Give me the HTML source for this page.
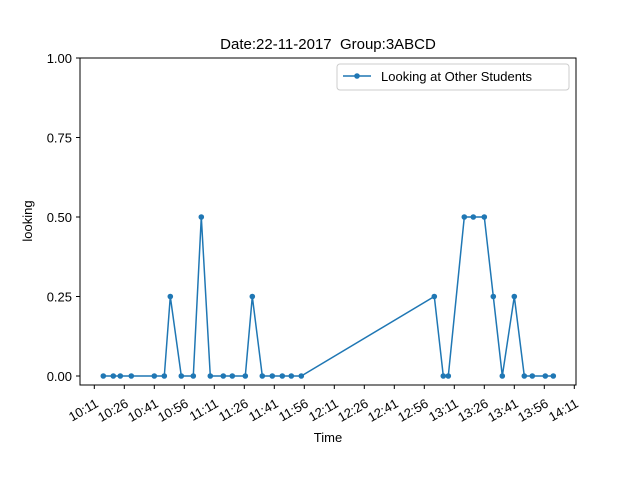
<!DOCTYPE html>
<html><head><meta charset="utf-8"><style>
body{margin:0;background:#fff;}
svg text{font-family:"Liberation Sans","DejaVu Sans",sans-serif;fill:#000;}
</style></head><body>
<svg id="chart" width="640" height="480" viewBox="0 0 640 480">
<rect width="640" height="480" fill="#fff"/>
<text x="328" y="49" font-size="15" text-anchor="middle" style="white-space:pre">Date:22-11-2017  Group:3ABCD</text>
<g id="grid"></g>
<g id="series"></g>
<rect x="80" y="58" width="496" height="327" fill="none" stroke="#000" stroke-width="1"/>
<text x="328" y="442" font-size="13" text-anchor="middle">Time</text>
<text transform="translate(32,221) rotate(-90)" font-size="13" text-anchor="middle">looking</text>
<g>
<rect x="337" y="64" width="232" height="26" rx="3" fill="#fff" stroke="#ccc"/>
<line x1="343" y1="76" x2="371" y2="76" stroke="#1f77b4" stroke-width="1.5"/>
<circle cx="357" cy="76" r="2.8" fill="#1f77b4"/>
<text x="381" y="81" font-size="13">Looking at Other Students</text>
</g>
</svg>
<script>
// minutes since midnight
const times=[615.5,620.5,624,629.5,641,646,649,654.5,660.5,664.5,669,675.5,680,686.5,690,695,700,705,709.5,714.5,781,785.5,788,796,800.5,806,810.5,815,821,826,830,836.5,840.5];
const values=[0,0,0,0,0,0,0.25,0,0,0.5,0,0,0,0,0.25,0,0,0,0,0,0.25,0,0,0.5,0.5,0.5,0.25,0,0.25,0,0,0,0];
const xTickLabels=["10:11","10:26","10:41","10:56","11:11","11:26","11:41","11:56","12:11","12:26","12:41","12:56","13:11","13:26","13:41","13:56","14:11"];
const yTickValues=[0,0.25,0.5,0.75,1.0];
const yTickLabels=["0.00","0.25","0.50","0.75","1.00"];
const NS="http://www.w3.org/2000/svg";
const xs=m=>94.3+(m-611)*2;
const ys=v=>376-v*318;
const g=document.getElementById('grid'), s=document.getElementById('series');
function mk(t,a,p){const e=document.createElementNS(NS,t);for(const k in a)e.setAttribute(k,a[k]);p.appendChild(e);return e;}
function tm(l){const [h,m]=l.split(':').map(Number);return h*60+m;}
xTickLabels.forEach(l=>{
 const x=xs(tm(l));
 const t=mk('line',{x1:x,x2:x,y1:385,y2:389,stroke:'#000'},g);
 
 
 const tx=mk('text',{x:0,y:0,'font-size':13,'text-anchor':'end',transform:`translate(${x+5},${406}) rotate(-30)`},g);
 tx.textContent=l;
 
 
});
yTickValues.forEach((v,i)=>{
 const y=ys(v);
 const t=mk('line',{x1:76,x2:80,y1:y,y2:y,stroke:'#000'},g);
 
 
 const tx=mk('text',{x:72,y:y+5,'font-size':13,'text-anchor':'end'},g);
 tx.textContent=yTickLabels[i];
 
 
});
const pts=times.map((t,i)=>xs(t)+','+ys(values[i])).join(' ');
const pl=mk('polyline',{points:pts,fill:'none',stroke:'#1f77b4','stroke-width':1.5},s);


times.forEach((t,i)=>{
 const c=mk('circle',{cx:xs(t),cy:ys(values[i]),r:2.8,fill:'#1f77b4'},s);
 
 
});
</script>
</body></html>
